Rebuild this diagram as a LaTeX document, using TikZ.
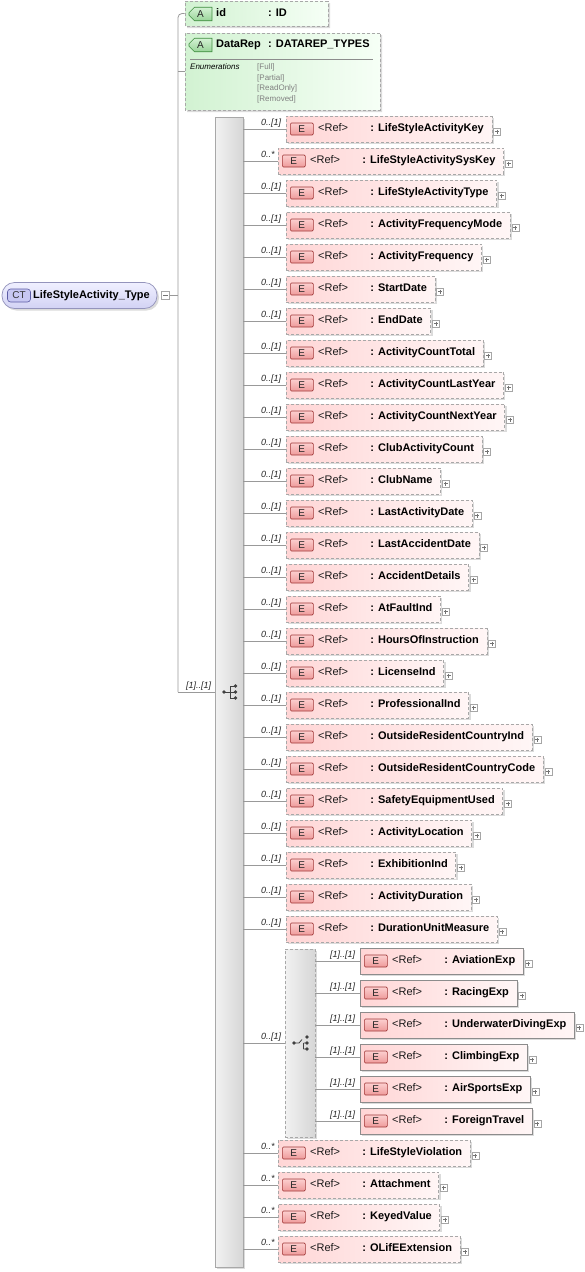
\documentclass[tikz,border=0pt]{standalone}
\usepackage{fontspec}
\setmainfont{Liberation Sans}
\usetikzlibrary{shapes.misc,shadows,calc}
\definecolor{conncol}{HTML}{999999}
\definecolor{boxborder}{HTML}{A8A8A8}
\definecolor{reqborder}{HTML}{8C8C8C}
\definecolor{elemL}{HTML}{FFD6D6}
\definecolor{elemR}{HTML}{FFF6F6}
\definecolor{eiconT}{HTML}{FCCFCF}
\definecolor{eiconB}{HTML}{EE9A9A}
\definecolor{eiconD}{HTML}{A03838}
\definecolor{attrL}{HTML}{D2F2D2}
\definecolor{attrR}{HTML}{F6FFF6}
\definecolor{aiconT}{HTML}{D4F2D4}
\definecolor{aiconB}{HTML}{98D498}
\definecolor{aiconD}{HTML}{3C8C3C}
\definecolor{rootT}{HTML}{F0F0FF}
\definecolor{rootB}{HTML}{D2D2F4}
\definecolor{rootD}{HTML}{9494BC}
\definecolor{cticon}{HTML}{C8C8F2}
\definecolor{cticonD}{HTML}{5C5CA4}
\definecolor{seqL}{HTML}{F2F2F2}
\definecolor{seqR}{HTML}{D6D6D6}
\begin{document}
\begin{tikzpicture}[x=1pt,y=-1pt,
  conn/.style={draw=conncol, line width=0.8pt},
  shad/.style={drop shadow={shadow xshift=2pt,shadow yshift=-2pt,fill=black!14,opacity=1}},
  elembox/.style={draw=boxborder, dash pattern=on 3pt off 2pt, line width=0.7pt,
    left color=elemL, right color=elemR, minimum height=26pt, inner xsep=0pt, inner ysep=0pt,
    text height=8pt, text depth=2.5pt, font=\fontsize{11}{13}\selectfont\bfseries, shad},
  reqbox/.style={solid, draw=reqborder},
  eicon/.style={draw=eiconD, top color=eiconT, bottom color=eiconB, minimum width=23pt,
    minimum height=12pt, inner sep=0pt, rounded corners=1.2pt, line width=0.6pt,
    font=\fontsize{10}{12}\selectfont, text=black!85},
  reftext/.style={inner sep=0pt, text height=8pt, text depth=2.5pt, font=\fontsize{11}{13}\selectfont, text=black!90},
  card/.style={inner sep=0pt, anchor=base west, font=\fontsize{9}{10}\selectfont\itshape, text=black!85},
  plusbox/.style={draw=black!35, fill=white, minimum size=7pt, inner sep=0pt, line width=0.5pt,
    path picture={\draw[black!55, line width=0.5pt]
      ([xshift=1.5pt]path picture bounding box.west) -- ([xshift=-1.5pt]path picture bounding box.east)
      ([yshift=-1.5pt]path picture bounding box.north) -- ([yshift=1.5pt]path picture bounding box.south);}},
  minusbox/.style={draw=black!35, fill=white, minimum size=8pt, inner sep=0pt, line width=0.5pt,
    path picture={\draw[black!55, line width=0.5pt]
      ([xshift=1.5pt]path picture bounding box.west) -- ([xshift=-1.5pt]path picture bounding box.east);}},
  attrbox/.style={chamfered rectangle, chamfered rectangle xsep=5pt, draw=boxborder,
    dash pattern=on 3pt off 2pt, line width=0.7pt, left color=attrL, right color=attrR, inner sep=0pt, shad},
  aicon/.style={chamfered rectangle, chamfered rectangle corners={north west,south west},
    chamfered rectangle xsep=2.2pt, draw=aiconD, top color=aiconT, bottom color=aiconB,
    minimum width=23pt, minimum height=12pt, inner sep=0pt, line width=0.6pt,
    font=\fontsize{10}{12}\selectfont, text=black!85},
  bold/.style={inner sep=0pt, anchor=west, text height=8pt, text depth=2.5pt, font=\fontsize{11}{13}\selectfont\bfseries},
  seqbox/.style={draw=boxborder, line width=0.7pt, left color=seqL, right color=seqR, inner sep=0pt, shad},
  enumtext/.style={inner sep=0pt, anchor=base west, font=\fontsize{8}{9}\selectfont, text=black!50}
]
\fill[white] (0,0) rectangle (584,1272);
\useasboundingbox (0,0) rectangle (584,1272);

% root
\node[draw=rootD, top color=rootT, bottom color=rootB, line width=0.7pt, rounded corners=12.5pt,
  minimum width=155pt, minimum height=26pt, inner sep=0pt, shad] (root) at (79.5,295.5) {};
\node[draw=cticonD, fill=cticon, rounded corners=3pt, minimum width=23pt, minimum height=13pt,
  inner sep=0pt, line width=0.6pt, font=\fontsize{10}{12}\selectfont, text=black!80] (ct) at (19,295.5) {CT};
\node[bold] (rootname) at (33,295.5) {LifeStyleActivity\_Type};
\node[minusbox] (rootm) at (165.5,295.5) {};

% attributes
\node[attrbox, minimum width=143pt, minimum height=25pt] (idbox) at (256.5,13.5) {};
\node[aicon] (ida) at (200.5,14) {A};
\node[bold] (idname) at (216,14) {id};
\node[bold] (idtype) at (268,14) {: ID};

\node[attrbox, minimum width=195pt, minimum height=77pt] (drbox) at (282.5,71.5) {};
\node[aicon] (dra) at (200.5,45) {A};
\node[bold] (drname) at (216,45) {DataRep};
\node[bold] (drtype) at (268,45) {: DATAREP\_TYPES};
\draw[black!45, line width=0.6pt] (190,59) -- (373,59);
\node[inner sep=0pt, anchor=base west, font=\fontsize{8}{9}\selectfont\itshape] (enum) at (190,69.5) {Enumerations};
\node[enumtext] (en1) at (257,69.5) {[Full]};
\node[enumtext] (en2) at (257,80) {[Partial]};
\node[enumtext] (en3) at (257,90.5) {[ReadOnly]};
\node[enumtext] (en4) at (257,101) {[Removed]};

% sequence
\node[seqbox, minimum width=28pt, minimum height=1150pt] (seq) at (229,692) {};
\fill[black!75] (224,692) circle (1.8pt);
\draw[black!75, line width=0.8pt] (224,692) -- (230,692) (230,686) -- (230,698)
  (230,686) -- (235,686) (230,698) -- (235,698) (230,692) -- (235,692);
\fill[black!75] (235.5,686) circle (1.8pt) (235.5,692) circle (1.8pt) (235.5,698) circle (1.8pt);

% trunk
\coordinate (tk) at (178,692);
\draw[conn, rounded corners=4pt] (idbox.west) -| (tk);
\draw[conn] (tk) -- (seq.west);
\draw[conn] (drbox.west) -- (drbox.west -| tk);
\draw[conn] (rootm.east) -- (rootm.east -| tk);
\node[card] (seqcard) at (186,688) {[1]..[1]};

% elements of the sequence
\foreach \i/\x/\lab/\nm in {
  0/286/0..[1]/LifeStyleActivityKey,
  1/278/0..*/LifeStyleActivitySysKey,
  2/286/0..[1]/LifeStyleActivityType,
  3/286/0..[1]/ActivityFrequencyMode,
  4/286/0..[1]/ActivityFrequency,
  5/286/0..[1]/StartDate,
  6/286/0..[1]/EndDate,
  7/286/0..[1]/ActivityCountTotal,
  8/286/0..[1]/ActivityCountLastYear,
  9/286/0..[1]/ActivityCountNextYear,
  10/286/0..[1]/ClubActivityCount,
  11/286/0..[1]/ClubName,
  12/286/0..[1]/LastActivityDate,
  13/286/0..[1]/LastAccidentDate,
  14/286/0..[1]/AccidentDetails,
  15/286/0..[1]/AtFaultInd,
  16/286/0..[1]/HoursOfInstruction,
  17/286/0..[1]/LicenseInd,
  18/286/0..[1]/ProfessionalInd,
  19/286/0..[1]/OutsideResidentCountryInd,
  20/286/0..[1]/OutsideResidentCountryCode,
  21/286/0..[1]/SafetyEquipmentUsed,
  22/286/0..[1]/ActivityLocation,
  23/286/0..[1]/ExhibitionInd,
  24/286/0..[1]/ActivityDuration,
  25/286/0..[1]/DurationUnitMeasure,
  32/278/0..*/LifeStyleViolation,
  33/278/0..*/Attachment,
  34/278/0..*/KeyedValue,
  35/278/0..*/OLifEExtension}{
  \pgfmathsetmacro\yy{129+32*\i}
  \node[elembox, anchor=west] (e\i) at (\x,\yy) {\hspace*{84pt}: \nm\hspace*{8pt}};
  \node[eicon, anchor=west] (e\i i) at ($(e\i.west)+(4,0)$) {E};
  \node[reftext, anchor=west] (e\i r) at ($(e\i.west)+(32,0)$) {<Ref>};
  \node[plusbox, anchor=west] (e\i p) at ($(e\i.east)+(1,2.5)$) {};
  \draw[conn] (seq.east |- e\i.west) -- (e\i.west);
  \node[card] (e\i c) at (261,\yy-4) {\lab};
}

% choice
\node[seqbox, dash pattern=on 3pt off 2pt, minimum width=30pt, minimum height=188pt] (ch) at (300,1043) {};
\draw[conn] (seq.east |- ch.west) -- (ch.west);
\node[card] (chcard) at (261,1039) {0..[1]};
\fill[black!75] (294,1043) circle (1.8pt);
\draw[black!75, line width=0.8pt] (294,1043) -- (299,1043) -- (302,1039.5) (303.5,1043) -- (303.5,1049)
  (303.5,1049) -- (306,1049) (303.5,1043) -- (306,1043);
\fill[black!75] (307,1037) circle (1.8pt) (307,1043) circle (1.8pt) (307,1049) circle (1.8pt);

\foreach \j/\nm in {0/AviationExp,1/RacingExp,2/UnderwaterDivingExp,3/ClimbingExp,4/AirSportsExp,5/ForeignTravel}{
  \pgfmathsetmacro\yy{961+32*\j}
  \node[elembox, reqbox, anchor=west] (c\j) at (360,\yy) {\hspace*{84pt}: \nm\hspace*{8pt}};
  \node[eicon, anchor=west] (c\j i) at ($(c\j.west)+(4,0)$) {E};
  \node[reftext, anchor=west] (c\j r) at ($(c\j.west)+(32,0)$) {<Ref>};
  \node[plusbox, anchor=west] (c\j p) at ($(c\j.east)+(1,2.5)$) {};
  \draw[conn] (ch.east |- c\j.west) -- (c\j.west);
  \node[card] (c\j c) at (330,\yy-4) {[1]..[1]};
}
\end{tikzpicture}
\end{document}
